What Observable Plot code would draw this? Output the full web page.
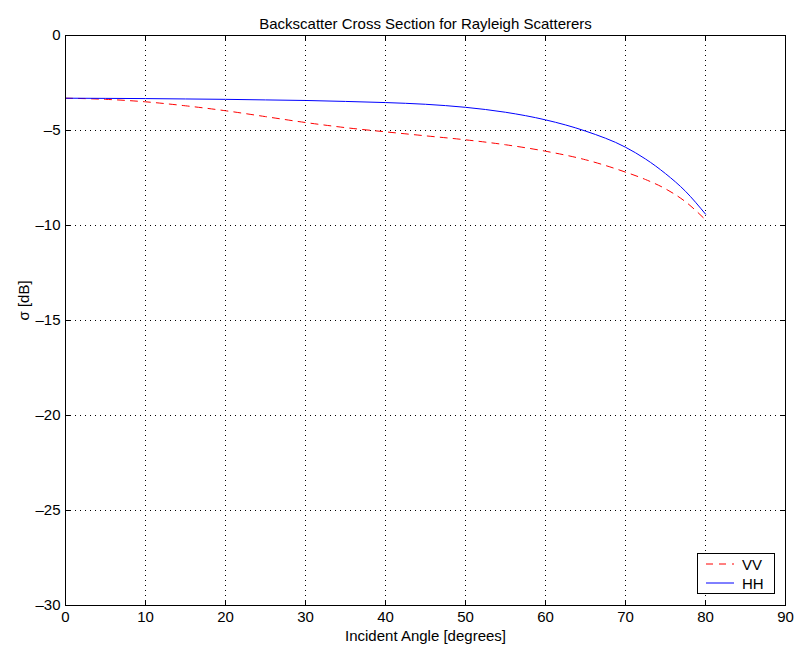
<!DOCTYPE html>
<html>
<head>
<meta charset="utf-8">
<script src="https://cdn.jsdelivr.net/npm/d3@7"></script>
<script src="https://cdn.jsdelivr.net/npm/@observablehq/plot@0.6"></script>
<style>
  body { margin: 0; background: #fff; }
  #wrap { position: relative; width: 798px; height: 654px; font-family: "Liberation Sans", Arial, sans-serif; }
  #legend { position: absolute; left: 697px; top: 553px; width: 76px; height: 39px; border: 1px solid #000; background: #fff; font-size: 15px; }
  #legend .row { position: absolute; left: 0; height: 18px; display: flex; align-items: center; }
  #legend svg { margin-left: 8px; margin-right: 8px; }
</style>
</head>
<body>
<div id="wrap">
  <div id="chart"></div>
  <div id="legend">
    <div class="row" style="top:1px"><svg width="28" height="4"><line x1="0" y1="2" x2="28" y2="2" stroke="#ff0000" stroke-dasharray="7,6"/></svg><span>VV</span></div>
    <div class="row" style="top:20px"><svg width="28" height="4"><line x1="0" y1="2" x2="28" y2="2" stroke="#0000ff"/></svg><span>HH</span></div>
  </div>
</div>
<script>
const angles = [0, 5, 10, 15, 20, 25, 30, 35, 40, 45, 50, 55, 60, 65, 70, 72.5, 75, 77.5, 80];
const vv = [-3.30, -3.36, -3.49, -3.70, -3.96, -4.27, -4.58, -4.85, -5.07, -5.28, -5.49, -5.75, -6.09, -6.54, -7.19, -7.58, -8.07, -8.75, -9.70];
const hh = [-3.30, -3.31, -3.32, -3.34, -3.36, -3.39, -3.42, -3.47, -3.53, -3.62, -3.78, -4.04, -4.44, -5.03, -5.88, -6.50, -7.27, -8.20, -9.40];
const xTicks = [0, 10, 20, 30, 40, 50, 60, 70, 80, 90];
const yTicks = [0, -5, -10, -15, -20, -25, -30];
const title = "Backscatter Cross Section for Rayleigh Scatterers";
const xLabel = "Incident Angle [degrees]";
const yLabel = "σ [dB]";

const vvData = angles.map((a, i) => ({a, v: vv[i]}));
const hhData = angles.map((a, i) => ({a, v: hh[i]}));

const W = 798, H = 654, mL = 65, mR = 13, mT = 35, mB = 49;
const fw = W - mL - mR, fh = H - mT - mB;
const tick = 5;
const fs = 15;

const chart = Plot.plot({
  width: W, height: H,
  marginLeft: mL, marginRight: mR, marginTop: mT, marginBottom: mB,
  style: {fontFamily: "Liberation Sans, Arial, sans-serif", fontSize: fs + "px", background: "#fff"},
  x: {domain: [0, 90], ticks: xTicks},
  y: {domain: [-30, 0], ticks: yTicks},
  marks: [
    Plot.gridX(xTicks, {stroke: "#000", strokeOpacity: 1, strokeDasharray: "1,4"}),
    Plot.gridY(yTicks, {stroke: "#000", strokeOpacity: 1, strokeDasharray: "1,4"}),
    Plot.ruleX(xTicks, {stroke: "#000", insetTop: fh - tick}),
    Plot.ruleX(xTicks, {stroke: "#000", insetBottom: fh - tick}),
    Plot.ruleY(yTicks, {stroke: "#000", insetRight: fw - tick}),
    Plot.ruleY(yTicks, {stroke: "#000", insetLeft: fw - tick}),
    Plot.axisX(xTicks, {tickSize: 0, tickPadding: 6, label: null, fontSize: fs, fill: "#000"}),
    Plot.axisY(yTicks, {tickSize: 0, tickPadding: 5, label: null, fontSize: fs, fill: "#000", tickFormat: d => d < 0 ? "\u2013" + Math.abs(d) : String(d)}),
    Plot.line(vvData, {x: "a", y: "v", stroke: "#ff0000", strokeWidth: 1, strokeDasharray: "7,6", curve: "monotone-x"}),
    Plot.line(hhData, {x: "a", y: "v", stroke: "#0000ff", strokeWidth: 1, curve: "monotone-x"}),
    Plot.frame({stroke: "#000"}),
    Plot.text([title], {frameAnchor: "top", dy: -17, fontSize: fs, fill: "#000"}),
    Plot.text([xLabel], {frameAnchor: "bottom", dy: 35, fontSize: fs, fill: "#000"}),
    Plot.text([yLabel], {frameAnchor: "left", dx: -41, rotate: -90, fontSize: fs, fill: "#000"})
  ]
});
document.getElementById("chart").appendChild(chart);
</script>
</body>
</html>
